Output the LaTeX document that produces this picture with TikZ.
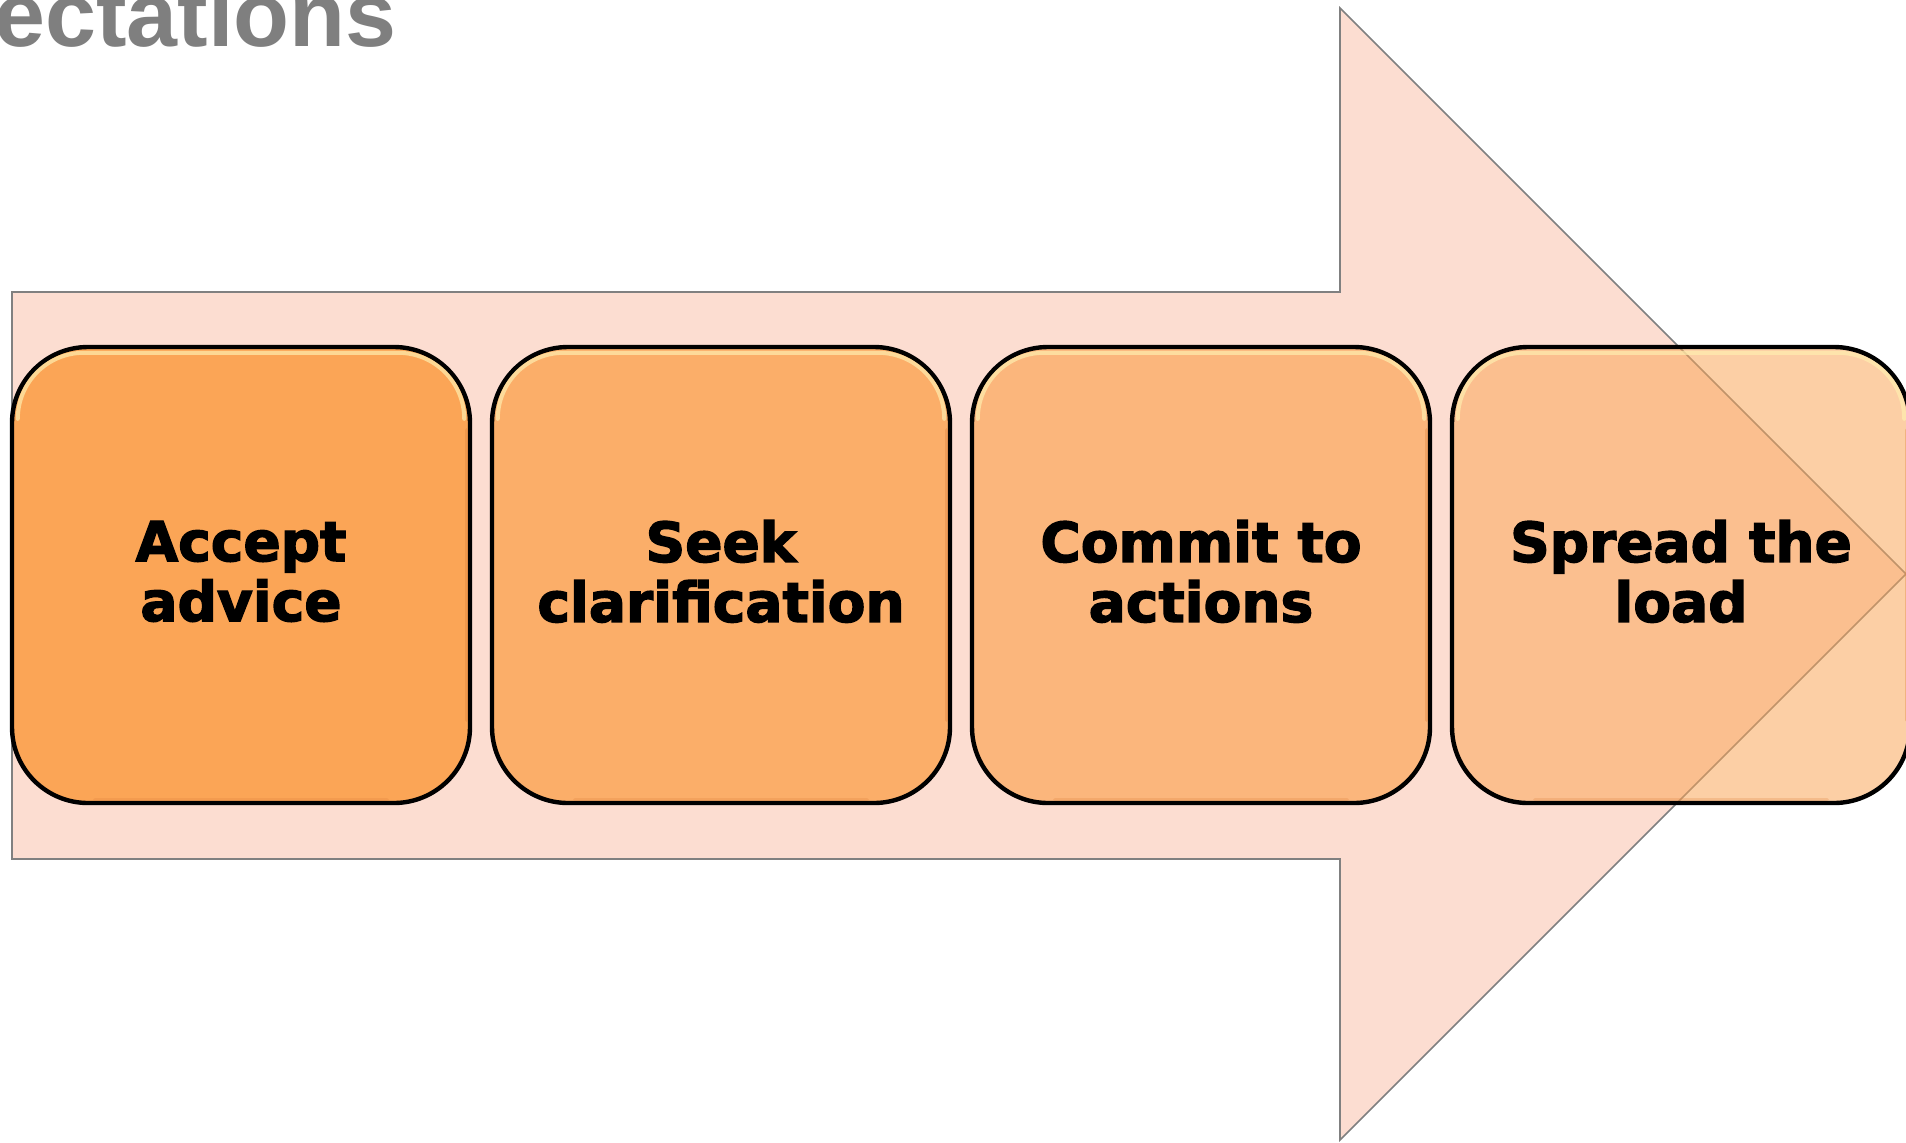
\documentclass[tikz,border=0pt]{standalone}
\usepackage{fontspec}
\setmainfont{DejaVu Sans}
\newfontfamily\titlefont{Liberation Sans}
\newfontfamily\boxfont[BoldFeatures={FakeBold=2.5}]{DejaVu Sans}
\usetikzlibrary{calc}
\definecolor{arrowfill}{RGB}{252,221,209}
\definecolor{arrowline}{RGB}{128,128,128}
\definecolor{boxorange}{RGB}{251,165,86}
\definecolor{titlegray}{RGB}{127,127,127}
\definecolor{glossy}{RGB}{255,238,175}
\definecolor{innershade}{RGB}{222,128,60}
\newcommand{\lowpad}{\rule[-4pt]{0pt}{0pt}}
\begin{document}
\begin{tikzpicture}[x=0.5pt,y=-0.5pt,
  bigarrow/.style={fill=arrowfill, draw=arrowline, line width=0.8pt, line join=miter},
  stepbox/.style={draw=black, line width=2.2pt, fill=boxorange, rounded corners=38pt,
    minimum width=229pt, minimum height=228pt, inner sep=0pt, align=center,
    text=black, text opacity=1, draw opacity=1,
    font=\boxfont\bfseries\fontsize{27.5}{30}\selectfont},
  gloss/.style={draw=glossy, line width=2pt, rounded corners=33pt, opacity=0.7, line cap=round},
  inshade/.style={draw=innershade, line width=1.6pt, opacity=0.35, line cap=round},
  titletext/.style={anchor=base west, inner sep=0pt, text=titlegray,
    font=\titlefont\bfseries\fontsize{45.8}{50}\selectfont}]
\useasboundingbox (0,0) rectangle (1906,1142);
\fill[white] (0,0) rectangle (1906,1142);

% big background arrow
\draw[bigarrow] (12,292) -- (1340,292) -- (1340,8) -- (1906,574) -- (1340,1140)
  -- (1340,859) -- (12,859) -- cycle;

% title (cut off at the top-left corner)
\node[titletext] (title) at (-6,46) {ectations};

% step boxes
\node[stepbox, fill opacity=1]    (b1) at (241,575)  {Accept\\advice\lowpad};
\node[stepbox, fill opacity=0.84] (b2) at (721,575)  {Seek\\clarification\lowpad};
\node[stepbox, fill opacity=0.69] (b3) at (1201,575) {Commit to\\actions\lowpad};
\node[stepbox, fill opacity=0.53] (b4) at (1681,575) {Spread the\\load\lowpad};

% bevel highlights and inner shading
\foreach \b in {b1,b2,b3,b4}{
  \draw[gloss] ($(\b.north west)+(8,74)$) |- ($(\b.north east)+(-8,8)$) -- ($(\b.north east)+(-8,74)$);
  \draw[inshade] ($(\b.north east)+(-6,85)$) -- ($(\b.south east)+(-6,-85)$);
  \draw[inshade, opacity=0.25] ($(\b.south west)+(85,-6)$) -- ($(\b.south east)+(-85,-6)$);
}
\end{tikzpicture}
\end{document}
